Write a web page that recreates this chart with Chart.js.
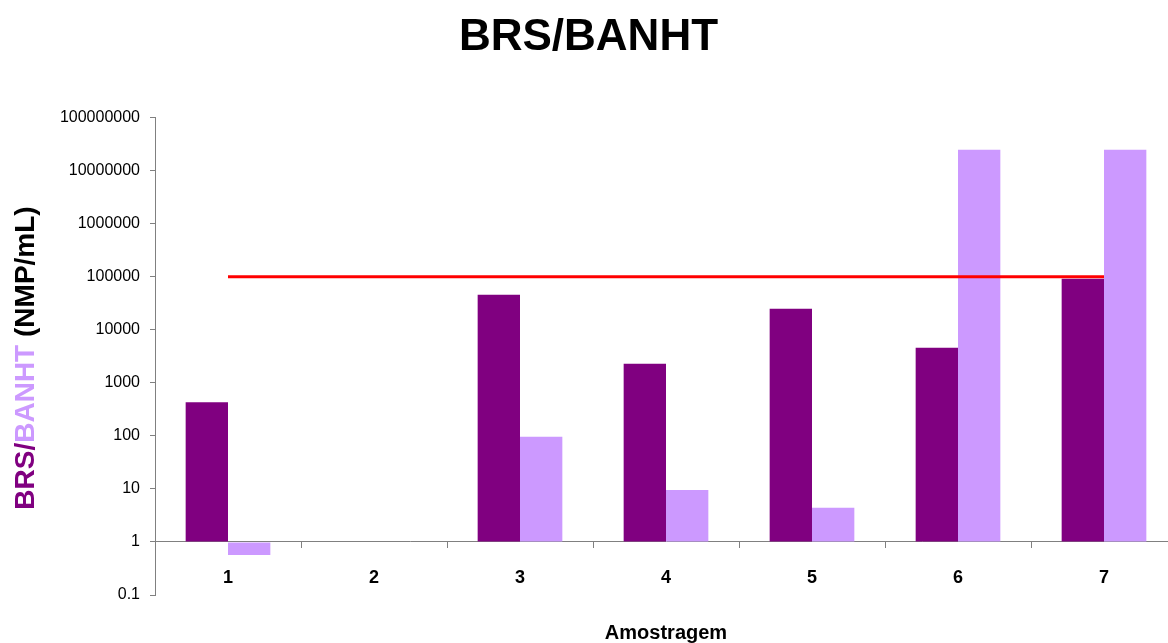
<!DOCTYPE html>
<html>
<head>
<meta charset="utf-8">
<script src="https://cdn.jsdelivr.net/npm/chart.js@4"></script>
<style>
  html, body { margin: 0; padding: 0; background: #fff; overflow: hidden; }
  /* the plot runs a few pixels past the right edge, like the original */
  #wrap { width: 1177px; height: 643px; position: relative; }
</style>
</head>
<body>
<div id="wrap"><canvas id="chart"></canvas></div>
<script>
const categories = ['1', '2', '3', '4', '5', '6', '7'];
const brsValues = [430, null, 46000, 2300, 25000, 4600, 92000];
const banhtValues = [0.57, null, 96, 9.6, 4.4, 25000000, 25000000];
const limitValues = [100000, 100000, 100000, 100000, 100000, 100000, 100000];
const yTickValues = [0.1, 1, 10, 100, 1000, 10000, 100000, 1000000, 10000000, 100000000];
const yTickLabels = ['0.1', '1', '10', '100', '1000', '10000', '100000', '1000000', '10000000', '100000000'];

const FONT = 'Liberation Sans, Arial, sans-serif';

// y title in three colours, drawn on the left
const yTitlePlugin = {
    id: 'yTitle',
    afterDraw(chart) {
        const ctx = chart.ctx;
        const parts = [['BRS/', '#800080'], ['BANHT', '#CC99FF'], [' (NMP/mL)', '#000000']];
        ctx.save();
        ctx.font = 'bold 28px ' + FONT;
        const total = parts.reduce((s, p) => s + ctx.measureText(p[0]).width, 0);
        ctx.translate(26, 358);
        ctx.rotate(-Math.PI / 2);
        ctx.textBaseline = 'middle';
        ctx.textAlign = 'left';
        let x = -total / 2;
        parts.forEach(p => {
            ctx.fillStyle = p[1];
            ctx.fillText(p[0], x, 0);
            x += ctx.measureText(p[0]).width;
        });
        ctx.restore();
    }
};

new Chart(document.getElementById('chart'), {
    type: 'bar',
    data: {
        labels: categories,
        datasets: [
            {
                label: 'BRS',
                data: brsValues,
                backgroundColor: '#800080',
                base: 1,
                order: 1,
                barPercentage: 1,
                categoryPercentage: 0.58
            },
            {
                label: 'BANHT',
                data: banhtValues,
                backgroundColor: '#CC99FF',
                base: 1,
                order: 1,
                barPercentage: 1,
                categoryPercentage: 0.58
            },
            {
                type: 'line',
                label: 'Limite',
                data: limitValues,
                borderColor: '#FF0000',
                borderWidth: 3,
                pointRadius: 0,
                order: 0
            }
        ]
    },
    options: {
        responsive: true,
        maintainAspectRatio: false,
        animation: false,
        layout: { padding: 0 },
        plugins: {
            legend: { display: false },
            tooltip: { enabled: false },
            title: {
                display: true,
                text: 'BRS/BANHT',
                color: '#000',
                font: { family: FONT, size: 44, weight: 'bold', lineHeight: 1.2 },
                padding: { top: 11, bottom: 54 }
            },
            subtitle: {
                display: true,
                position: 'bottom',
                fullSize: false,
                text: 'Amostragem',
                color: '#000',
                font: { family: FONT, size: 20, weight: 'bold', lineHeight: 1 },
                padding: { top: 28, bottom: 0 }
            }
        },
        scales: {
            x: {
                position: { y: 1 },
                afterFit(scale) { scale.height = 0; },
                grid: { drawOnChartArea: false, tickLength: 6, color: '#808080' },
                border: { color: '#808080', width: 1 },
                ticks: {
                    color: '#000',
                    padding: 19,
                    font: { family: FONT, size: 18, weight: 'bold' }
                }
            },
            y: {
                type: 'logarithmic',
                min: 0.1,
                max: 100000000,
                afterFit(scale) { scale.width = 155; },
                afterBuildTicks(scale) {
                    scale.ticks = yTickValues.map(v => ({ value: v }));
                },
                grid: { drawOnChartArea: false, tickLength: 5, color: '#808080' },
                border: { color: '#808080', width: 1 },
                ticks: {
                    color: '#000',
                    padding: 10,
                    autoSkip: false,
                    font: { family: FONT, size: 16 },
                    callback: function (value) {
                        const i = yTickValues.indexOf(value);
                        return i >= 0 ? yTickLabels[i] : '';
                    }
                }
            }
        }
    },
    plugins: [yTitlePlugin]
});
</script>
</body>
</html>
